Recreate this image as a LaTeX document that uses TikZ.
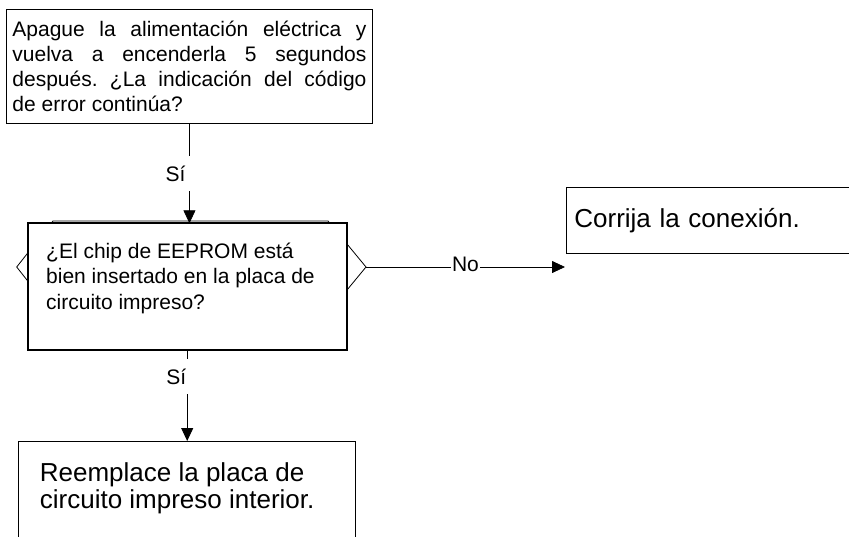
\documentclass[tikz,border=0pt]{standalone}
\usepackage{fontspec}
\setmainfont{Liberation Sans}
\usepackage{tikz}
\usetikzlibrary{arrows.meta}
\tolerance=10000
\hbadness=10000
\frenchspacing

\begin{document}
\begin{tikzpicture}
                [x=1pt,y=-1pt,
                small/.style={font=\fontsize{21}{25.3}\selectfont},
                big/.style={font=\fontsize{26}{27}\selectfont},
                qbox/.style={draw,line width=0.8pt,anchor=north west,inner xsep=5.75pt,inner ysep=0pt},
                dbox/.style={draw,line width=2pt,fill=white,anchor=north west,outer sep=0pt,minimum width=319pt,minimum height=126.7pt},
                abox/.style={draw,line width=0.8pt,anchor=north west},
                txt/.style={anchor=north west,inner sep=0pt,align=left},
                answer/.style={fill=white,inner sep=9.5pt,small},
                edge/.style={->,> = {Triangle[length=13pt,width=12pt]},line width=0.8pt}
                ]
            \useasboundingbox (0,0) rectangle (849,536);
            \clip (0,0) rectangle (849,536);
            \coordinate (hl) at (16.7,267);
            \coordinate (hr) at (366,267);
            \coordinate (noend) at (565,267);
            \draw[line width=0.8pt] (hl) -- (53,221) -- (328,221) -- (hr) -- (328,313) -- (53,313) -- cycle;
            \node[qbox,small,text width=354pt,align=justify,minimum height=113.4pt] (q1) at (6.3,9.3) {Apague la alimentación eléctrica y\linebreak vuelva a encenderla 5 segundos\linebreak después. ¿La indicación del código\linebreak de error continúa?};
            \node[dbox] (dec) at (27.7,223.3) {};
            \node[txt,small] (dect) at (46,243) {¿El chip de EEPROM está\\bien insertado en la placa de\\circuito impreso?};
            \node[abox,big,text width=300pt,align=left,inner xsep=8pt,minimum height=66pt] (fix) at (566,187) {Corrija la conexión.};
            \node[abox,minimum width=336.7pt,minimum height=200pt] (rep) at (18.3,441) {};
            \node[txt,big] (rept) at (39.7,462.4) {Reemplace la placa de\\circuito impreso interior.};
            \draw[edge] (q1.south) -- (q1.south |- dec.north) node[answer,pos=0.5,xshift=-14pt] {Sí};
            \draw[edge] (dec.south) -- (dec.south |- rep.north) node[answer,pos=0.29,xshift=-11pt] {Sí};
            \draw[edge] (hr) -- (noend) node[answer,inner xsep=1pt,inner ysep=3pt,pos=0.5,yshift=2.5pt] {No};
            \end{tikzpicture}
\end{document}
